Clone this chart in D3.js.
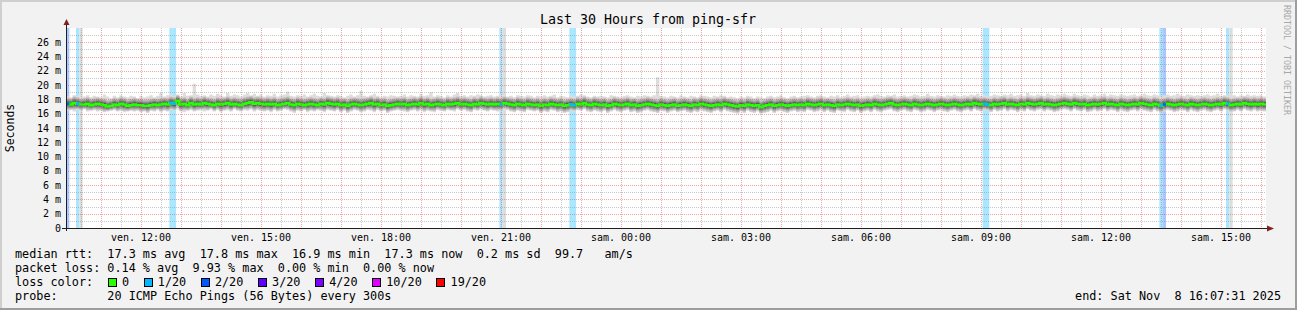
<!DOCTYPE html>
<html>
<head>
<meta charset="utf-8">
<script src="https://cdn.jsdelivr.net/npm/d3@7"></script>
<style>
body{margin:0;background:#f2f2f2;}
text{font-family:"DejaVu Sans Mono",monospace;white-space:pre;}
</style>
</head>
<body>
<div id="chart"></div>
<script>
// ---- data ----
const title = "Last 30 Hours from ping-sfr";
const endTime = new Date(Date.UTC(2025, 10, 8, 16, 7, 31));
const spanHours = 30;
const stepSec = 300;

// median rtt per 5 min step (ms)
const median = [
17.4,17.3,17.5,17.4,17.3,17.3,17.4,17.2,17.3,17.4,17.3,17.2,17.0,17.1,17.3,17.2,17.4,17.3,17.1,17.2,
17.3,17.2,17.2,17.1,17.1,17.2,17.3,17.2,17.3,17.4,17.3,17.5,17.4,17.8,17.3,17.4,17.2,17.5,17.3,17.4,
17.3,17.5,17.4,17.3,17.2,17.4,17.3,17.4,17.5,17.3,17.4,17.3,17.2,17.4,17.5,17.6,17.4,17.5,17.4,17.3,
17.4,17.3,17.4,17.2,17.3,17.4,17.5,17.3,17.2,17.4,17.3,17.2,17.3,17.4,17.3,17.2,17.4,17.3,17.5,17.4,
17.3,17.4,17.2,17.3,17.1,17.3,17.4,17.3,17.2,17.3,17.4,17.5,17.3,17.4,17.2,17.3,17.1,17.2,17.3,17.4,
17.3,17.4,17.2,17.3,17.4,17.3,17.5,17.3,17.4,17.2,17.3,17.4,17.3,17.2,17.4,17.3,17.4,17.5,17.3,17.4,
17.3,17.2,17.4,17.3,17.5,17.4,17.3,17.4,17.3,17.4,17.3,17.5,17.4,17.3,17.2,17.4,17.3,17.2,17.4,17.3,
17.2,17.3,17.1,17.3,17.2,17.4,17.3,17.2,17.3,17.1,17.2,17.3,17.2,17.4,17.3,17.5,17.3,17.2,17.4,17.3,
17.2,17.3,17.1,17.2,17.4,17.3,17.2,17.3,17.4,17.2,17.3,17.1,17.2,17.3,17.4,17.3,17.2,17.1,17.3,17.2,
17.1,17.2,17.3,17.1,17.2,17.3,17.2,17.1,17.3,17.2,17.4,17.3,17.2,17.1,17.2,17.3,17.2,17.4,17.3,17.2,
17.1,17.0,17.2,17.1,17.3,17.2,17.1,17.2,16.9,17.1,17.2,17.3,17.1,17.2,17.3,17.2,17.1,17.2,17.3,17.2,
17.3,17.2,17.4,17.3,17.2,17.3,17.4,17.2,17.3,17.2,17.1,17.3,17.2,17.3,17.4,17.3,17.2,17.3,17.1,17.2,
17.3,17.2,17.4,17.3,17.2,17.3,17.4,17.5,17.3,17.2,17.3,17.4,17.3,17.2,17.4,17.3,17.2,17.3,17.4,17.3,
17.2,17.3,17.4,17.3,17.2,17.3,17.4,17.3,17.2,17.3,17.4,17.3,17.5,17.4,17.3,17.4,17.3,17.2,17.4,17.3,
17.4,17.5,17.3,17.4,17.3,17.2,17.4,17.3,17.5,17.4,17.3,17.4,17.5,17.3,17.4,17.3,17.2,17.3,17.4,17.5,
17.4,17.3,17.5,17.4,17.3,17.4,17.2,17.3,17.4,17.3,17.4,17.5,17.3,17.4,17.3,17.2,17.4,17.3,17.2,17.3,
17.4,17.3,17.5,17.4,17.3,17.2,17.4,17.3,17.1,17.3,17.4,17.3,17.2,17.3,17.4,17.3,17.2,17.4,17.3,17.2,
17.3,17.4,17.3,17.2,17.3,17.4,17.3,17.5,17.4,17.2,17.3,17.4,17.3,17.5,17.4,17.3,17.4,17.3,17.4,17.3
];
// slowest ping per step (ms)
const pingHi = [
18.4,18.3,18.6,18.5,18.2,18.4,18.6,18.3,18.5,18.4,18.3,18.7,18.4,18.2,18.5,18.3,18.6,18.4,18.3,18.5,
18.4,18.2,18.5,18.3,18.4,18.6,18.3,18.5,18.9,18.4,18.6,18.8,18.5,18.7,18.4,18.9,18.5,18.6,20.2,18.7,
18.5,18.6,18.4,18.7,18.5,18.8,18.6,18.4,18.9,18.5,18.7,18.6,18.4,18.7,18.9,18.6,18.8,18.5,18.7,18.4,
18.6,18.5,18.8,18.4,18.6,18.7,19.1,18.5,18.4,18.6,18.5,18.7,18.4,18.6,18.8,18.5,18.4,18.9,18.6,18.5,
18.4,18.6,18.5,18.3,18.5,18.7,18.4,18.6,19.2,18.5,18.4,18.6,18.8,18.5,18.3,18.5,18.4,18.6,18.5,18.4,
18.5,18.7,18.4,18.6,18.5,18.4,18.8,18.5,18.6,19.0,18.4,18.6,18.5,18.3,18.6,18.4,18.7,18.9,18.5,18.6,
18.4,18.6,18.5,18.7,18.6,18.4,18.5,18.6,18.4,18.5,18.7,18.6,18.4,18.5,18.3,18.6,18.5,18.4,18.6,18.5,
18.3,18.5,18.4,18.6,18.4,18.5,18.7,18.3,18.5,18.4,18.3,18.6,18.4,18.5,18.7,18.6,18.4,18.3,18.5,18.4,
18.5,18.4,18.3,18.6,18.5,18.4,18.3,18.5,18.6,18.4,18.3,18.5,18.4,18.6,18.5,18.4,18.6,21.1,18.5,18.4,
18.3,18.5,18.4,18.3,18.6,18.4,18.3,18.5,18.4,18.3,18.6,18.5,18.4,18.3,18.5,18.4,18.6,18.5,18.3,18.4,
18.3,18.2,18.4,18.3,18.5,18.4,18.2,18.4,18.3,18.2,18.4,18.5,18.3,18.4,18.6,18.3,18.2,18.4,18.5,18.3,
18.4,18.5,18.6,18.4,18.3,18.5,18.6,18.4,18.3,18.5,18.4,18.6,18.3,18.5,18.7,18.4,18.5,18.6,18.3,18.4,
18.5,18.4,18.6,18.7,18.5,18.4,18.6,18.5,18.7,18.4,18.5,18.6,18.4,18.5,18.7,18.6,18.4,18.5,18.8,18.5,
18.4,18.6,18.5,18.4,18.6,18.5,18.7,18.5,18.4,18.6,18.5,18.7,18.6,18.8,18.5,18.6,18.4,18.5,18.7,18.6,
18.5,18.7,18.6,18.8,18.5,18.6,18.7,18.5,18.9,18.6,18.5,18.7,18.6,18.5,18.8,18.6,18.5,18.7,18.6,18.8,
18.6,18.5,18.8,18.6,18.5,18.7,18.6,18.4,18.7,18.5,18.6,18.8,18.5,18.7,18.6,18.5,18.7,18.6,18.5,18.6,
18.7,18.5,18.6,18.8,18.6,18.5,18.7,18.6,18.4,18.6,18.7,18.5,18.6,18.8,18.6,18.5,18.7,18.6,18.5,18.6,
18.5,18.6,18.7,18.5,18.6,18.8,18.5,18.6,18.7,18.5,18.6,18.4,18.6,18.5,18.7,18.5,18.6,18.5,18.6,18.4
];
// fastest ping per step (ms)
const pingLo = [
16.4,16.5,16.3,16.5,16.4,16.6,16.3,16.4,16.5,16.3,16.4,16.2,16.3,16.4,16.5,16.3,16.4,16.2,16.3,16.4,
16.3,16.4,16.2,16.3,16.1,16.4,16.3,16.5,16.2,16.4,16.3,16.5,16.4,16.6,16.3,16.2,16.4,16.5,16.3,16.4,
16.5,16.3,16.4,16.6,16.3,16.5,16.2,16.4,16.5,16.3,16.6,16.4,16.3,16.5,16.4,16.6,16.3,16.5,16.4,16.3,
16.4,16.2,16.5,16.3,16.4,16.6,16.5,16.3,16.1,16.4,16.3,16.5,16.2,16.4,16.3,16.5,16.4,16.2,16.5,16.4,
16.3,16.5,16.2,16.4,16.1,16.3,16.5,16.4,16.2,16.3,16.5,16.4,16.2,16.5,16.3,16.4,16.1,16.3,16.4,16.5,
16.4,16.3,16.2,16.4,16.5,16.3,16.5,16.2,16.4,16.3,16.2,16.5,16.4,16.3,16.5,16.4,16.3,16.6,16.4,16.5,
16.3,16.2,16.5,16.4,16.6,16.4,16.3,16.5,16.4,16.3,16.4,16.6,16.5,16.3,16.2,16.4,16.3,16.2,16.5,16.4,
16.3,16.4,16.1,16.3,16.2,16.5,16.4,16.2,16.3,16.1,16.2,16.4,16.3,16.5,16.4,16.6,16.3,16.2,16.4,16.3,
16.2,16.4,16.1,16.3,16.5,16.3,16.2,16.4,16.5,16.2,16.3,16.1,16.2,16.4,16.5,16.3,16.2,16.1,16.4,16.3,
16.1,16.3,16.4,16.2,16.3,16.4,16.2,16.1,16.3,16.2,16.5,16.3,16.2,16.1,16.3,16.4,16.2,16.5,16.3,16.2,
16.1,16.0,16.3,16.1,16.4,16.2,16.1,16.3,16.0,16.1,16.2,16.4,16.1,16.3,16.4,16.2,16.1,16.3,16.4,16.2,
16.3,16.2,16.5,16.4,16.2,16.3,16.5,16.2,16.4,16.2,16.1,16.4,16.3,16.2,16.5,16.3,16.2,16.4,16.1,16.3,
16.4,16.2,16.5,16.3,16.2,16.4,16.5,16.6,16.3,16.2,16.4,16.5,16.3,16.2,16.5,16.4,16.2,16.3,16.5,16.4,
16.2,16.4,16.5,16.3,16.2,16.4,16.5,16.3,16.2,16.4,16.5,16.3,16.6,16.4,16.3,16.5,16.4,16.2,16.5,16.3,
16.4,16.6,16.3,16.5,16.4,16.2,16.5,16.3,16.6,16.4,16.3,16.5,16.6,16.3,16.5,16.4,16.2,16.3,16.5,16.6,
16.5,16.3,16.6,16.4,16.3,16.5,16.2,16.3,16.5,16.3,16.4,16.6,16.3,16.5,16.4,16.2,16.5,16.3,16.2,16.4,
16.5,16.3,16.6,16.4,16.3,16.2,16.5,16.3,16.1,16.3,16.5,16.4,16.2,16.3,16.5,16.4,16.2,16.5,16.3,16.2,
16.4,16.5,16.3,16.2,16.4,16.5,16.3,16.6,16.4,16.2,16.3,16.5,16.3,16.6,16.4,16.3,16.5,16.3,16.4,16.3
];
// steps with packet loss and how many of 20 pings were lost
const lossSteps  = [0, 3, 31, 32, 130, 151, 152, 275, 276, 328, 329, 348];
const lossCounts = [2, 1, 1,  1,  1,   1,   1,   1,   1,   1,   2,   1];
const smokeFullSteps = [4, 131, 349];

const lossLevels = [0, 1, 2, 3, 4, 10, 19];
const lossLabels = ["0", "1/20", "2/20", "3/20", "4/20", "10/20", "19/20"];
const lossColors = ["#26ff00", "#00b8ff", "#0059ff", "#5e00ff", "#7e00ff", "#dd00ff", "#ff0000"];

const yTicks = [0, 2, 4, 6, 8, 10, 12, 14, 16, 18, 20, 22, 24, 26];
const yMax = 28;
const dayNames = ["dim.", "lun.", "mar.", "mer.", "jeu.", "ven.", "sam."];

const legendRtt  = "median rtt:  17.3 ms avg  17.8 ms max  16.9 ms min  17.3 ms now  0.2 ms sd  99.7   am/s";
const legendLoss = "packet loss: 0.14 % avg  9.93 % max  0.00 % min  0.00 % now";
const legendProbe = "probe:       20 ICMP Echo Pings (56 Bytes) every 300s";
const legendEnd = "end: Sat Nov  8 16:07:31 2025";

// ---- layout ----
const W = 1297, H = 310;
const plot = {left: 66, right: 1266, top: 28, bottom: 228};
const startTime = new Date(endTime.getTime() - spanHours * 3600e3);

const svg = d3.select("#chart").append("svg").attr("width", W).attr("height", H);
svg.append("rect").attr("width", W).attr("height", H).attr("fill", "#f2f2f2");
// frame shades
svg.append("rect").attr("x", 0).attr("y", 0).attr("width", W).attr("height", 2).attr("fill", "#cfcfcf");
svg.append("rect").attr("x", 0).attr("y", 0).attr("width", 2).attr("height", H).attr("fill", "#cfcfcf");
svg.append("rect").attr("x", 0).attr("y", H - 2).attr("width", W).attr("height", 2).attr("fill", "#9e9e9e");
svg.append("rect").attr("x", W - 2).attr("y", 0).attr("width", 2).attr("height", H).attr("fill", "#9e9e9e");

const x = d3.scaleTime().domain([startTime, endTime]).range([plot.left, plot.right]);
const y = d3.scaleLinear().domain([0, yMax]).range([plot.bottom, plot.top]);

svg.append("rect").attr("x", plot.left).attr("y", plot.top)
  .attr("width", plot.right - plot.left).attr("height", plot.bottom - plot.top).attr("fill", "#fff");

const stepTime = i => new Date(startTime.getTime() + i * stepSec * 1000);
const steps = median.map((m, i) => ({i: i, t: stepTime(i), med: m, hi: pingHi[i], lo: pingLo[i]}));
const stepsEnd = steps.concat([Object.assign({}, steps[steps.length - 1], {t: stepTime(steps.length)})]);

const g = svg.append("g");

// loss bars
function lossColor(n) {
  let c = lossColors[0];
  lossLevels.forEach((lv, k) => { if (n >= lv) c = lossColors[k]; });
  return c;
}
g.selectAll(".lossbar").data(lossSteps).enter().append("rect")
  .attr("x", d => x(stepTime(d)))
  .attr("width", d => x(stepTime(d + 1)) - x(stepTime(d)))
  .attr("y", plot.top).attr("height", plot.bottom - plot.top)
  .attr("fill", (d, k) => lossColor(lossCounts[k])).attr("opacity", 0.34);
g.selectAll(".smokefull").data(smokeFullSteps).enter().append("rect")
  .attr("x", d => x(stepTime(d)))
  .attr("width", d => x(stepTime(d + 1)) - x(stepTime(d)))
  .attr("y", plot.top).attr("height", plot.bottom - plot.top)
  .attr("fill", "#dddddd");

// smoke: 10 stacked shades, lightest outside
const layerFrac = [1, 0.88, 0.76, 0.64, 0.53, 0.43, 0.33, 0.24, 0.15, 0.07];
layerFrac.forEach((f, k) => {
  const shade = Math.floor(190 / 10 * (10 - (k + 1))) + 50;
  const col = d3.rgb(shade, shade, shade).formatHex();
  const top = d => k === 0 ? d.hi : d.med + (Math.min(d.hi, d.med + 1.05) - d.med) * f;
  const bot = d => k === 0 ? d.lo : d.med - (d.med - Math.max(d.lo, d.med - 1.05)) * f;
  const area = d3.area().x(d => x(d.t)).y0(d => y(bot(d))).y1(d => y(top(d))).curve(d3.curveStepAfter);
  g.append("path").datum(stepsEnd).attr("d", area).attr("fill", col);
});

// median line
const line = d3.line().x(d => x(d.t)).y(d => y(d.med)).curve(d3.curveStepAfter);
g.append("path").datum(stepsEnd).attr("d", line)
  .attr("fill", "none").attr("stroke", lossColors[0]).attr("stroke-width", 2.5);
g.selectAll(".losssegment").data(lossSteps).enter().append("line")
  .attr("x1", d => x(stepTime(d))).attr("x2", d => x(stepTime(d + 1)))
  .attr("y1", d => y(median[d])).attr("y2", d => y(median[d]))
  .attr("stroke", (d, k) => lossColor(lossCounts[k])).attr("stroke-width", 2.5);

// grid (on top, dotted)
const grid = svg.append("g").attr("shape-rendering", "crispEdges").attr("stroke-dasharray", "1,1");
const minorY = d3.range(1, yMax).filter(v => v % 2 !== 0);
grid.selectAll(".gy").data(minorY).enter().append("line")
  .attr("x1", plot.left).attr("x2", plot.right)
  .attr("y1", d => Math.round(y(d)) + 0.5).attr("y2", d => Math.round(y(d)) + 0.5)
  .attr("stroke", "rgba(143,143,143,0.5)");
const halfHours = d3.utcMinute.every(30).range(startTime, endTime).filter(t => t.getUTCMinutes() === 30);
grid.selectAll(".gx").data(halfHours).enter().append("line")
  .attr("x1", d => Math.round(x(d)) + 0.5).attr("x2", d => Math.round(x(d)) + 0.5)
  .attr("y1", plot.top).attr("y2", plot.bottom)
  .attr("stroke", "rgba(143,143,143,0.5)");
grid.selectAll(".my").data(yTicks.slice(1)).enter().append("line")
  .attr("x1", plot.left).attr("x2", plot.right)
  .attr("y1", d => Math.round(y(d)) + 0.5).attr("y2", d => Math.round(y(d)) + 0.5)
  .attr("stroke", "rgba(222,80,80,0.5)");
const hours = d3.utcHour.every(1).range(startTime, endTime);
grid.selectAll(".mx").data(hours).enter().append("line")
  .attr("x1", d => Math.round(x(d)) + 0.5).attr("x2", d => Math.round(x(d)) + 0.5)
  .attr("y1", plot.top).attr("y2", plot.bottom)
  .attr("stroke", "rgba(222,80,80,0.5)");

// axes
const axis = svg.append("g").attr("shape-rendering", "crispEdges");
axis.append("line").attr("x1", plot.left - 4).attr("x2", plot.right + 2)
  .attr("y1", plot.bottom + 0.5).attr("y2", plot.bottom + 0.5).attr("stroke", "#1f1f1f");
axis.append("line").attr("x1", plot.left + 0.5).attr("x2", plot.left + 0.5)
  .attr("y1", plot.bottom + 3).attr("y2", plot.top - 4).attr("stroke", "#1f1f1f");
svg.append("path").attr("d", `M${plot.right + 1},${plot.bottom - 2.5}L${plot.right + 8},${plot.bottom + 0.5}L${plot.right + 1},${plot.bottom + 3.5}Z`)
  .attr("fill", "#801f1f");
svg.append("path").attr("d", `M${plot.left - 2.5},${plot.top - 3}L${plot.left + 0.5},${plot.top - 9}L${plot.left + 3.5},${plot.top - 3}Z`)
  .attr("fill", "#801f1f");

// y labels
svg.append("g").selectAll("text").data(yTicks).enter().append("text")
  .attr("x", 61).attr("y", d => y(d)).attr("dy", "0.35em")
  .attr("text-anchor", "end").attr("font-size", 10)
  .text(d => d === 0 ? "0" : d + " m");

// x labels
const xTicks = d3.utcHour.every(3).range(startTime, endTime);
svg.append("g").selectAll("text").data(xTicks).enter().append("text")
  .attr("x", d => x(d)).attr("y", 241)
  .attr("text-anchor", "middle").attr("font-size", 10)
  .text(d => dayNames[d.getUTCDay()] + " " + d3.utcFormat("%H:%M")(d));

svg.append("text").attr("transform", "translate(14,128) rotate(-90)")
  .attr("text-anchor", "middle").attr("font-size", 11.5).text("Seconds");

svg.append("text").attr("x", 648).attr("y", 23.5).attr("text-anchor", "middle")
  .attr("font-size", 13.3).text(title);

svg.append("text").attr("transform", "translate(1284,5) rotate(90)")
  .attr("font-size", 8.3).attr("fill", "#a8a8a8").text("RRDTOOL / TOBI OETIKER");

// legend
const lf = 11.8, cw = 7.14, lx = 15;
svg.append("text").attr("x", lx).attr("y", 258).attr("font-size", lf).text(legendRtt);
svg.append("text").attr("x", lx).attr("y", 272).attr("font-size", lf).text(legendLoss);
svg.append("text").attr("x", lx).attr("y", 286).attr("font-size", lf).text("loss color:");
svg.append("text").attr("x", lx).attr("y", 300).attr("font-size", lf).text(legendProbe);
svg.append("text").attr("x", 1281).attr("y", 300).attr("font-size", lf).attr("text-anchor", "end").text(legendEnd);

let col = 13;
const sw = svg.append("g");
lossLabels.forEach((lab, k) => {
  const sx = lx + col * cw;
  sw.append("rect").attr("x", Math.round(sx) + 0.5).attr("y", 278.5).attr("width", 8).attr("height", 8)
    .attr("fill", lossColors[k]).attr("stroke", "#000").attr("shape-rendering", "crispEdges");
  sw.append("text").attr("x", sx + 2 * cw).attr("y", 286).attr("font-size", lf).text(lab);
  col += 2 + lab.length + 2;
});
</script>
</body>
</html>
